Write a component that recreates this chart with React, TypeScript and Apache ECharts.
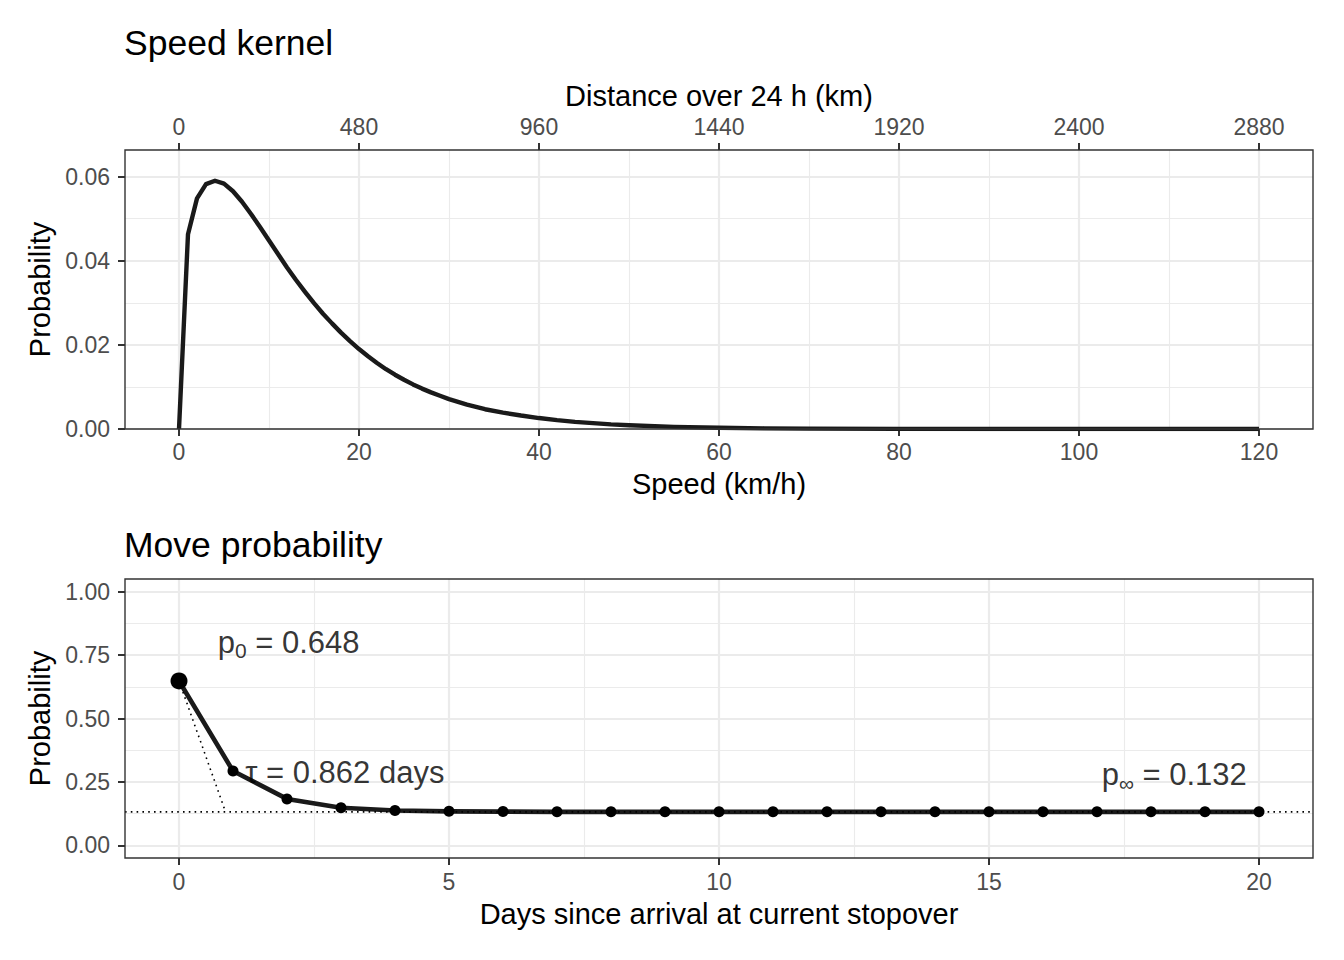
import React, { useEffect, useRef } from "react";
import * as echarts from "echarts";

// ---------- data ----------
const speedKmh = [
  0, 1, 2, 3, 4, 5, 6, 7, 8, 9, 10, 11, 12, 13, 14, 15, 16, 17, 18, 19, 20,
  21, 22, 23, 24, 25, 26, 27, 28, 29, 30, 32, 34, 36, 38, 40, 42, 44, 46, 48,
  50, 55, 60, 65, 70, 80, 90, 100, 110, 120,
];
const kernelProb = [
  0, 0.0463, 0.0548, 0.0582, 0.059, 0.0583, 0.0565, 0.054, 0.0511, 0.048,
  0.0448, 0.0416, 0.0384, 0.0354, 0.0326, 0.0299, 0.0274, 0.0251, 0.0229,
  0.0209, 0.019, 0.0173, 0.0157, 0.0142, 0.0129, 0.0117, 0.0106, 0.0096,
  0.0087, 0.0079, 0.0071, 0.0058, 0.0047, 0.0039, 0.0032, 0.0026, 0.0021,
  0.0017, 0.0014, 0.0011, 0.0009, 0.0005, 0.0003, 0.00016, 0.00009, 0.00003,
  0.00001, 0.000003, 0.000001, 0.0000003,
];
const speedTicks = [0, 20, 40, 60, 80, 100, 120];
const distanceTicks = [0, 480, 960, 1440, 1920, 2400, 2880];
const kernelProbTicks = [0, 0.02, 0.04, 0.06];

const days = [0, 1, 2, 3, 4, 5, 6, 7, 8, 9, 10, 11, 12, 13, 14, 15, 16, 17, 18, 19, 20];
const moveProb = [
  0.648, 0.293, 0.183, 0.148, 0.137, 0.134, 0.133, 0.132, 0.132, 0.132, 0.132,
  0.132, 0.132, 0.132, 0.132, 0.132, 0.132, 0.132, 0.132, 0.132, 0.132,
];
const dayTicks = [0, 5, 10, 15, 20];
const moveProbTicks = [0, 0.25, 0.5, 0.75, 1];

const p0 = 0.648;
const tau = 0.862;
const pInf = 0.132;

// ---------- styles ----------
const FONT = "'Liberation Sans', Arial, Helvetica, sans-serif";
const tickLabel = { color: "#4D4D4D", fontSize: 23, fontFamily: FONT };
const nameText = { color: "#000", fontSize: 29, fontFamily: FONT };
const tickStyle = { show: true, length: 7, lineStyle: { color: "#333", width: 2 } };
const major = { show: true, lineStyle: { color: "#EBEBEB", width: 2.2 } };
const minor = { show: true, lineStyle: { color: "#EBEBEB", width: 1.1 } };

function valueAxis(opts: any) {
  const { ticks, fmt, margin = 12, minorOn = true, splitOn = true, ...rest } = opts;
  return {
    type: "value",
    axisLine: { show: false, onZero: false },
    axisTick: { ...tickStyle, customValues: ticks },
    axisLabel: {
      ...tickLabel,
      margin,
      customValues: ticks,
      formatter: fmt || ((v: number) => String(v)),
    },
    splitLine: splitOn ? major : { show: false },
    minorTick: { show: false, splitNumber: 2 },
    minorSplitLine: minorOn ? minor : { show: false },
    nameLocation: "middle",
    nameTextStyle: nameText,
    ...rest,
  };
}

export default function App() {
  const ref = useRef<HTMLDivElement>(null);

  useEffect(() => {
    if (!ref.current) return;
    const chart = echarts.init(ref.current, undefined, { renderer: "svg" });

    const kernelData = speedKmh.map((s, i) => [s, kernelProb[i]]);
    const moveData = days.map((d, i) => ({
      value: [d, moveProb[i]],
      symbolSize: i === 0 ? 17 : 11,
    }));

    const rich = {
      m: { fontSize: 31, fontFamily: FONT, color: "#000", lineHeight: 38, verticalAlign: "middle" },
      s: { fontSize: 21, fontFamily: FONT, color: "#000", lineHeight: 21, verticalAlign: "bottom" },
    };

    const titleStyle = { fontSize: 35.5, fontWeight: "normal", color: "#000", fontFamily: FONT };

    const option: any = {
      animation: false,
      backgroundColor: "#fff",
      title: [
        { text: "Speed kernel", left: 124, top: 25, padding: 0, textStyle: titleStyle },
        { text: "Move probability", left: 124, top: 527, padding: 0, textStyle: titleStyle },
      ],
      grid: [
        {
          left: 125, right: 31, top: 150, height: 279,
          show: true, borderColor: "#333", borderWidth: 1.4,
          backgroundColor: "transparent", z: 5,
        },
        {
          left: 125, right: 31, top: 579, height: 279,
          show: true, borderColor: "#333", borderWidth: 1.4,
          backgroundColor: "transparent", z: 5,
        },
      ],
      xAxis: [
        valueAxis({
          gridIndex: 0, position: "bottom", min: -6, max: 126,
          minInterval: 20, maxInterval: 20, ticks: speedTicks, margin: 11,
          name: "Speed (km/h)", nameGap: 40,
        }),
        valueAxis({
          gridIndex: 0, position: "top", min: -144, max: 3024,
          minInterval: 480, maxInterval: 480, ticks: distanceTicks,
          splitOn: false, minorOn: false, margin: 11.5,
          name: "Distance over 24 h (km)", nameGap: 40,
        }),
        valueAxis({
          gridIndex: 1, position: "bottom", min: -1, max: 21,
          minInterval: 5, maxInterval: 5, ticks: dayTicks, margin: 12,
          name: "Days since arrival at current stopover", nameGap: 41,
        }),
      ],
      yAxis: [
        valueAxis({
          gridIndex: 0, min: 0, max: 0.0663,
          minInterval: 0.02, maxInterval: 0.02, ticks: kernelProbTicks,
          fmt: (v: number) => v.toFixed(2), margin: 15,
          name: "Probability", nameGap: 68,
        }),
        valueAxis({
          gridIndex: 1, min: -0.05, max: 1.05,
          minInterval: 0.25, maxInterval: 0.25, ticks: moveProbTicks,
          fmt: (v: number) => v.toFixed(2), margin: 15,
          name: "Probability", nameGap: 68,
        }),
      ],
      series: [
        {
          type: "line",
          xAxisIndex: 0,
          yAxisIndex: 0,
          data: kernelData,
          showSymbol: false,
          symbol: "none",
          lineStyle: { color: "#1a1a1a", width: 4.4, join: "round" },
          z: 3,
        },
        {
          type: "line",
          xAxisIndex: 2,
          yAxisIndex: 1,
          data: moveData,
          symbol: "circle",
          itemStyle: { color: "#000" },
          lineStyle: { color: "#1a1a1a", width: 4.6, join: "round" },
          z: 3,
        },
        {
          type: "line",
          xAxisIndex: 2,
          yAxisIndex: 1,
          data: [[0, p0], [tau, pInf]],
          symbol: "none",
          lineStyle: { color: "#000", width: 1.6, type: [1.6, 4.2] },
          z: 4,
        },
        {
          type: "line",
          xAxisIndex: 2,
          yAxisIndex: 1,
          data: [[-1, pInf], [21, pInf]],
          symbol: "none",
          lineStyle: { color: "#000", width: 1.6, type: [1.6, 4.2] },
          z: 4,
        },
        {
          type: "scatter",
          xAxisIndex: 2,
          yAxisIndex: 1,
          symbolSize: 1,
          itemStyle: { color: "transparent" },
          silent: true,
          z: 6,
          label: { show: true, position: "inside", color: "#000", rich },
          data: [
            { value: [2.03, 0.8], label: { formatter: `{m|p}{s|0}{m| = ${p0.toFixed(3)}}` } },
            { value: [3.07, 0.286], label: { formatter: `{m|τ = ${tau.toFixed(3)} days}` } },
            { value: [18.43, 0.278], label: { formatter: `{m|p}{s|∞}{m| = ${pInf.toFixed(3)}}` } },
          ],
        },
      ],
    };

    chart.setOption(option);
    return () => chart.dispose();
  }, []);

  return (
    <div
      ref={ref}
      style={{ position: "absolute", left: 0, top: 0, width: 1344, height: 960 }}
    />
  );
}
